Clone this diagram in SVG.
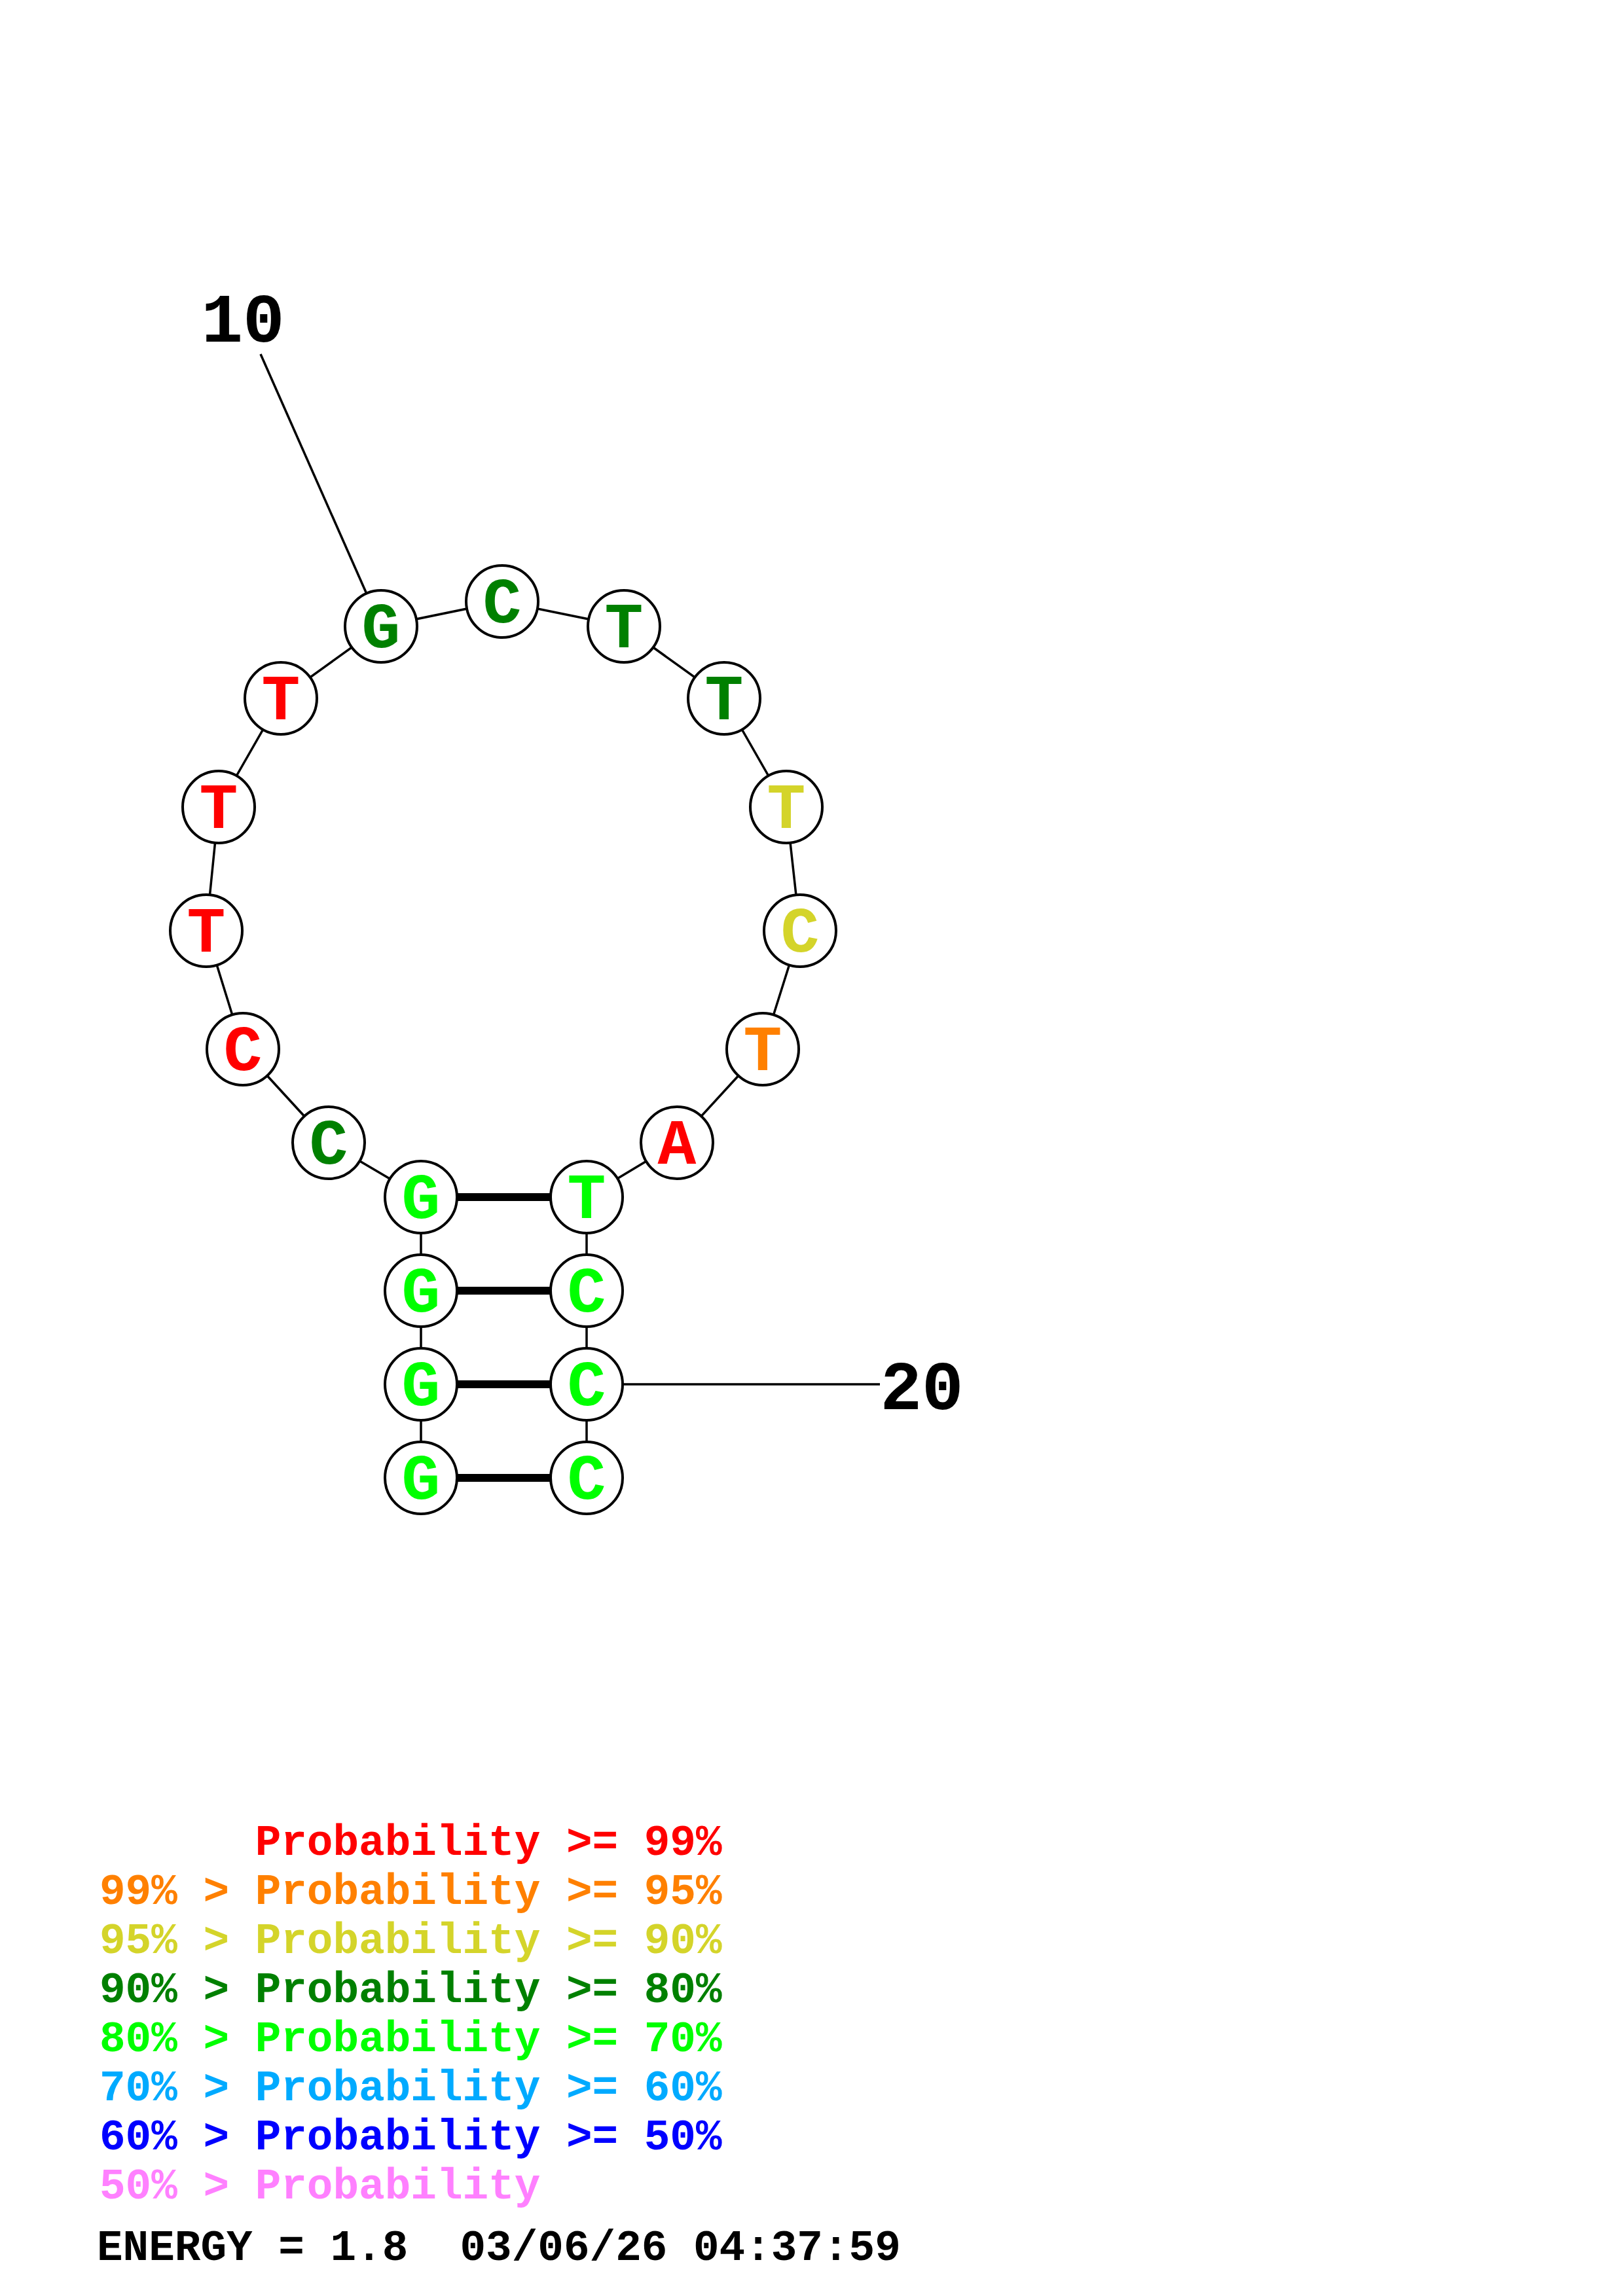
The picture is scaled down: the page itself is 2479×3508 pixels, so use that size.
<svg xmlns="http://www.w3.org/2000/svg" width="2479" height="3508" viewBox="0 0 2479 3508">
<style>
.bb{stroke:#000;stroke-width:3.5;fill:none}
.pr{stroke:#000;stroke-width:12;fill:none}
.nd{fill:#fff;stroke:#000;stroke-width:4}
.nt{font-family:"Liberation Mono","DejaVu Sans Mono",monospace;font-weight:bold;font-size:98px;text-anchor:middle}
.lb{font-family:"Liberation Mono","DejaVu Sans Mono",monospace;font-weight:bold;font-size:106px;text-anchor:middle;fill:#000}
.lg{font-family:"Liberation Mono","DejaVu Sans Mono",monospace;font-weight:bold;font-size:66px;white-space:pre}
.red{fill:#FF0000}.org{fill:#FF8000}.yel{fill:#D4D42A}.dgr{fill:#008000}.lim{fill:#00FF00}.sky{fill:#00AAFF}.blu{fill:#0000FF}.pnk{fill:#FF80FF}
</style>
<rect width="2479" height="3508" fill="#fff"/>
<g id="connectors">
<polyline class="bb" points="643,2258 643,2115 643,1972 643,1829 502,1746 371,1603 315,1422 334,1233 429,1067 582,957 767,919 953,957 1106,1067 1201,1233 1222,1422 1165,1603 1034,1746 896,1829 896,1972 896,2115 896,2258"/>
<line class="pr" x1="643" y1="1829" x2="896" y2="1829"/>
<line class="pr" x1="643" y1="1972" x2="896" y2="1972"/>
<line class="pr" x1="643" y1="2115" x2="896" y2="2115"/>
<line class="pr" x1="643" y1="2258" x2="896" y2="2258"/>
<line class="bb" x1="398" y1="541" x2="582" y2="957"/>
<line class="bb" x1="896" y1="2115" x2="1344" y2="2115"/>
</g>
<g id="n1"><circle class="nd" cx="643" cy="2258" r="55"/><text class="nt lim" x="643" y="2290">G</text></g>
<g id="n2"><circle class="nd" cx="643" cy="2115" r="55"/><text class="nt lim" x="643" y="2147">G</text></g>
<g id="n3"><circle class="nd" cx="643" cy="1972" r="55"/><text class="nt lim" x="643" y="2004">G</text></g>
<g id="n4"><circle class="nd" cx="643" cy="1829" r="55"/><text class="nt lim" x="643" y="1861">G</text></g>
<g id="n5"><circle class="nd" cx="502" cy="1746" r="55"/><text class="nt dgr" x="502" y="1778">C</text></g>
<g id="n6"><circle class="nd" cx="371" cy="1603" r="55"/><text class="nt red" x="371" y="1635">C</text></g>
<g id="n7"><circle class="nd" cx="315" cy="1422" r="55"/><text class="nt red" x="315" y="1454">T</text></g>
<g id="n8"><circle class="nd" cx="334" cy="1233" r="55"/><text class="nt red" x="334" y="1265">T</text></g>
<g id="n9"><circle class="nd" cx="429" cy="1067" r="55"/><text class="nt red" x="429" y="1099">T</text></g>
<g id="n10"><circle class="nd" cx="582" cy="957" r="55"/><text class="nt dgr" x="582" y="989">G</text></g>
<g id="n11"><circle class="nd" cx="767" cy="919" r="55"/><text class="nt dgr" x="767" y="951">C</text></g>
<g id="n12"><circle class="nd" cx="953" cy="957" r="55"/><text class="nt dgr" x="953" y="989">T</text></g>
<g id="n13"><circle class="nd" cx="1106" cy="1067" r="55"/><text class="nt dgr" x="1106" y="1099">T</text></g>
<g id="n14"><circle class="nd" cx="1201" cy="1233" r="55"/><text class="nt yel" x="1201" y="1265">T</text></g>
<g id="n15"><circle class="nd" cx="1222" cy="1422" r="55"/><text class="nt yel" x="1222" y="1454">C</text></g>
<g id="n16"><circle class="nd" cx="1165" cy="1603" r="55"/><text class="nt org" x="1165" y="1635">T</text></g>
<g id="n17"><circle class="nd" cx="1034" cy="1746" r="55"/><text class="nt red" x="1034" y="1778">A</text></g>
<g id="n18"><circle class="nd" cx="896" cy="1829" r="55"/><text class="nt lim" x="896" y="1861">T</text></g>
<g id="n19"><circle class="nd" cx="896" cy="1972" r="55"/><text class="nt lim" x="896" y="2004">C</text></g>
<g id="n20"><circle class="nd" cx="896" cy="2115" r="55"/><text class="nt lim" x="896" y="2147">C</text></g>
<g id="n21"><circle class="nd" cx="896" cy="2258" r="55"/><text class="nt lim" x="896" y="2290">C</text></g>
<g id="labels">
<text class="lb" x="371" y="522">10</text>
<text class="lb" x="1408" y="2153">20</text>
</g>
<g id="legend">
<text class="lg red" x="152" y="2834" xml:space="preserve">      Probability &gt;= 99%</text>
<text class="lg org" x="152" y="2909" xml:space="preserve">99% &gt; Probability &gt;= 95%</text>
<text class="lg yel" x="152" y="2984" xml:space="preserve">95% &gt; Probability &gt;= 90%</text>
<text class="lg dgr" x="152" y="3059" xml:space="preserve">90% &gt; Probability &gt;= 80%</text>
<text class="lg lim" x="152" y="3134" xml:space="preserve">80% &gt; Probability &gt;= 70%</text>
<text class="lg sky" x="152" y="3209" xml:space="preserve">70% &gt; Probability &gt;= 60%</text>
<text class="lg blu" x="152" y="3284" xml:space="preserve">60% &gt; Probability &gt;= 50%</text>
<text class="lg pnk" x="152" y="3359" xml:space="preserve">50% &gt; Probability</text>
<text class="lg" x="148" y="3453" fill="#000" xml:space="preserve">ENERGY = 1.8  03/06/26 04:37:59</text>
</g>
</svg>
